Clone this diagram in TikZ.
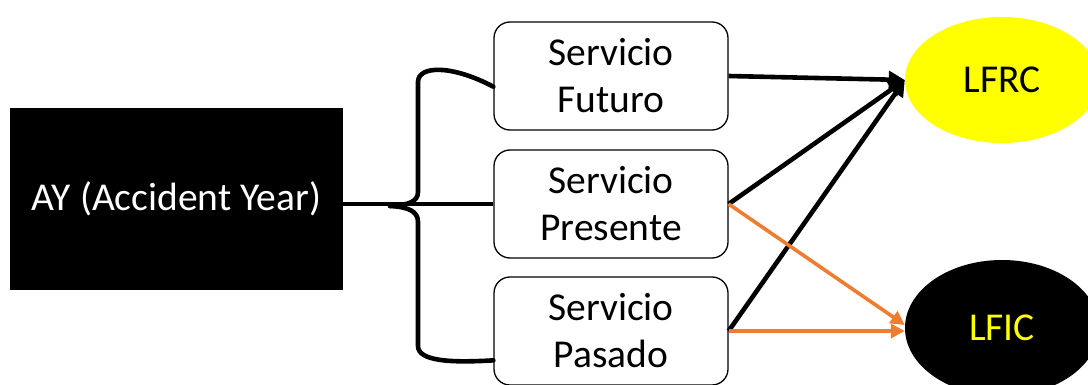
\documentclass[tikz,border=0pt]{standalone}
\usepackage{fontspec}
\setmainfont{Carlito}
\usetikzlibrary{shapes.geometric,arrows.meta,calc}
\definecolor{offorange}{HTML}{ED7D31}
\definecolor{offyellow}{HTML}{FFFF00}
\begin{document}
\begin{tikzpicture}[x=1pt,y=-1pt,
  every node/.style={font=\fontsize{39.5}{47}\selectfont},
  svc/.style={draw=black,line width=1.3pt,rounded corners=16pt,minimum width=234pt,minimum height=108pt,align=center,inner sep=0pt,fill=white},
  oval/.style={ellipse,inner sep=0pt},
  blkarrow/.style={line width=4.6pt,-{Triangle[length=16pt,width=17pt]}},
  orarrow/.style={draw=offorange,line width=3.6pt,-{Triangle[length=14pt,width=14pt]}},
  bracel/.style={line width=4.6pt,line cap=round},
  stem/.style={line width=3.6pt}]
\useasboundingbox (0,0) rectangle (1088,385);
\node[fill=black,text=white,minimum width=333pt,minimum height=182pt,inner sep=0pt] (ay) at (176.5,199) {AY (Accident Year)};
\node[svc] (fut) at (611,76) {Servicio\\Futuro};
\node[svc] (pre) at (611,204) {Servicio\\Presente};
\node[svc] (pas) at (611,331) {Servicio\\Pasado};
\node[oval,fill=offyellow,text=black,minimum width=194pt,minimum height=126pt] (lfrc) at (1002,80) {LFRC};
\node[oval,fill=black,text=offyellow,minimum width=194pt,minimum height=136pt] (lfic) at (1002,328) {LFIC};
\coordinate (bt) at ($(fut.south west)+(0,-44)$);
\coordinate (bb) at ($(pas.north west)+(0,84)$);
\coordinate (tip) at (390,206);
\draw[stem] (ay.east |- pre.west) -- (pre.west);
\draw[bracel] (bt) .. controls (450,64) and (418,66) .. (418,82) -- (418,192)
   .. controls (418,202) and (408,205) .. (tip);
\draw[bracel] (bb) .. controls (450,363) and (418,361) .. (418,346) -- (418,222)
   .. controls (418,211) and (408,207) .. (tip);
\draw[blkarrow] (fut.east) -- (lfrc.west);
\draw[blkarrow] (pre.east) -- (lfrc.west);
\draw[blkarrow] (pas.east) -- (lfrc.west);
\draw[orarrow] (pre.east) -- ($(lfic.west)+(0,-3)$);
\draw[orarrow] (pas.east) -- (pas.east -| lfic.west);
\end{tikzpicture}
\end{document}
